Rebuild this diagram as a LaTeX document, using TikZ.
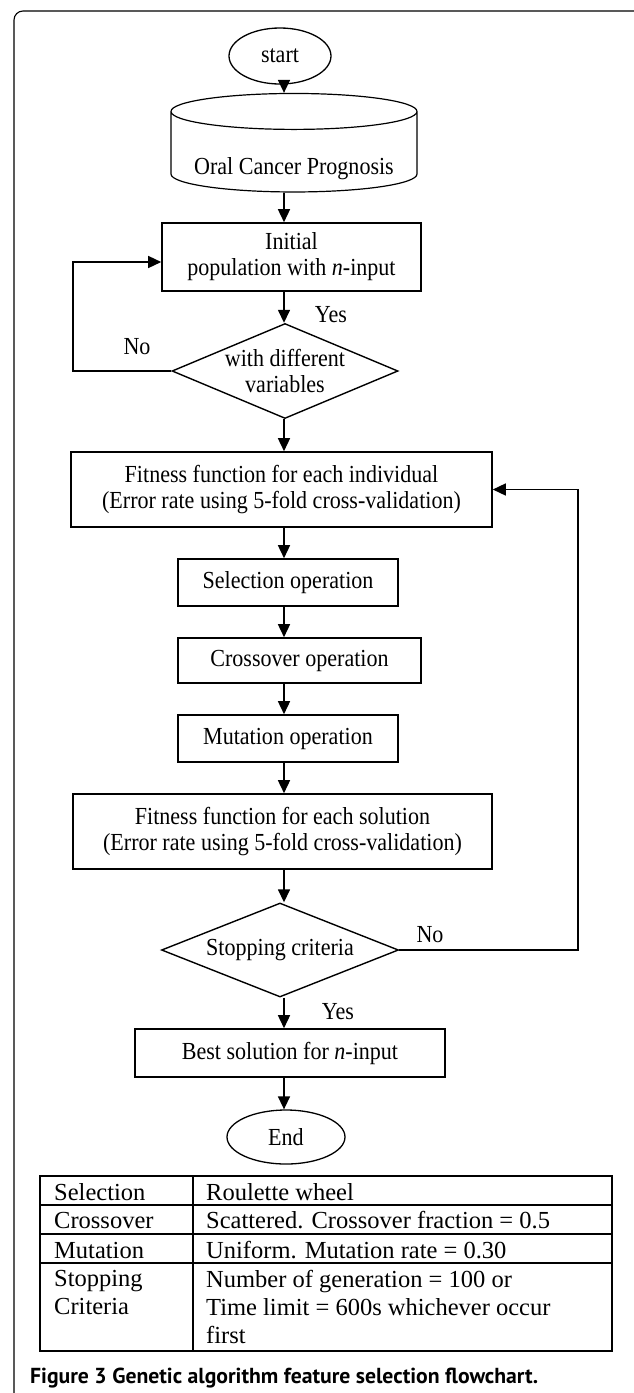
\documentclass[tikz,border=0pt]{standalone}
\usepackage{fontspec}
\setmainfont{Liberation Serif}[FakeStretch=0.9]
\newfontfamily\tabfont{Liberation Serif}
\newfontfamily\capfont{PT Sans}
\usetikzlibrary{shapes.geometric,arrows.meta}

\begin{document}
\begin{tikzpicture}[x=1pt, y=-1pt,
    every node/.style={font=\fontsize{24.5}{26}\selectfont},
    box/.style={draw, line width=1.6pt, inner sep=0pt, align=center},
    term/.style={draw, ellipse, line width=1.3pt, inner sep=0pt},
    test/.style={draw, diamond, aspect=2.4, line width=1.4pt, inner sep=-6pt, align=center},
    arr/.style={line width=1.5pt, -{Triangle[length=13pt, width=12pt]}},
    cell/.style={font=\tabfont\fontsize{24.5}{28}\selectfont, inner sep=0pt, align=left}]
    \useasboundingbox (0,0) rectangle (633,1393);
    \draw[line width=1.1pt, rounded corners=9pt] (14,1393) |- (640,11);

    \coordinate (mid) at (284,0);
    \node[term, minimum width=102pt, minimum height=56pt] (start) at (280,56) {start};
    \node[draw, cylinder, shape border rotate=90, aspect=0.18, line width=1.2pt,
        minimum width=246pt, minimum height=70pt, inner sep=0pt,
        text height=44pt, text depth=0pt] (db) at (294,152) {Oral Cancer Prognosis};
    \node[box, minimum width=259pt, minimum height=68pt] (init) at (291.5,257)
        {Initial\\population with \textit{n}-input};
    \node[test, minimum width=226pt, minimum height=95pt] (vary) at (285,371)
        {with different\\variables};
    \node[box, minimum width=421pt, minimum height=75pt] (fit1) at (281.5,489.5)
        {Fitness function for each individual\\(Error rate using 5-fold cross-validation)};
    \node[box, minimum width=220pt, minimum height=47pt] (sel) at (288,582.5) {Selection operation};
    \node[box, minimum width=243pt, minimum height=45pt] (cross) at (299.5,660.5) {Crossover operation};
    \node[box, minimum width=220pt, minimum height=47pt] (mut) at (288,738.5) {Mutation operation};
    \node[box, minimum width=419pt, minimum height=75pt] (fit2) at (282.5,831.5)
        {Fitness function for each solution\\(Error rate using 5-fold cross-validation)};
    \node[test, minimum width=237pt, minimum height=94pt] (stop) at (280,950) {Stopping criteria};
    \node[box, minimum width=310pt, minimum height=48pt] (best) at (290,1053)
        {Best solution for \textit{n}-input};
    \node[term, minimum width=118pt, minimum height=54pt] (end) at (286,1137) {End};

    \node (yes1) at (331,315) {Yes};
    \node (no1) at (137,347) {No};
    \node (no2) at (430,935) {No};
    \node (yes2) at (338,1012) {Yes};

    \draw[arr] (start.south -| mid) -- (db.north -| mid);
    \draw[arr] (db.south -| mid) -- (init.north -| mid);
    \draw[arr] (init.south -| mid) -- (vary.north -| mid);
    \draw[arr] (vary.south -| mid) -- (fit1.north -| mid);
    \draw[arr] (fit1.south -| mid) -- (sel.north -| mid);
    \draw[arr] (sel.south -| mid) -- (cross.north -| mid);
    \draw[arr] (cross.south -| mid) -- (mut.north -| mid);
    \draw[arr] (mut.south -| mid) -- (fit2.north -| mid);
    \draw[arr] (fit2.south -| mid) -- (stop.north -| mid);
    \draw[arr] (stop.south -| mid) -- (best.north -| mid);
    \draw[arr] (best.south -| mid) -- (end.north -| mid);

    \coordinate (loopA) at (73,262);
    \draw[arr] (vary.west) -| (loopA) -- (loopA -| init.west);
    \coordinate (loopB) at (578,0);
    \draw[arr] (stop.east) -| (loopB |- fit1.east) -- (fit1.east);

    % parameter table
    \draw[line width=1.5pt] (40,1176) rectangle (612,1351);
    \draw[line width=1.5pt] (193,1176) -- (193,1351)
        (40,1205) -- (612,1205) (40,1234) -- (612,1234) (40,1263) -- (612,1263);
    \node[cell, anchor=base west] (k1) at (54,1200) {Selection};
    \node[cell, anchor=base west] (v1) at (206,1200) {Roulette wheel};
    \node[cell, anchor=base west] (k2) at (54,1228) {Crossover};
    \node[cell, anchor=base west] (v2) at (206,1228) {Scattered. Crossover fraction = 0.5};
    \node[cell, anchor=base west] (k3) at (54,1258) {Mutation};
    \node[cell, anchor=base west] (v3) at (206,1258) {Uniform. Mutation rate = 0.30};
    \node[cell, anchor=north west] (k4) at (54,1270.5) {Stopping\\Criteria};
    \node[cell, anchor=north west] (v4) at (206,1270.5)
        {Number of generation = 100 or\\Time limit = 600s whichever occur\\first};

    \node[anchor=base west, inner sep=0pt, font=\capfont\bfseries\fontsize{21.7}{24}\selectfont]
        (cap) at (30,1383) {Figure 3 Genetic algorithm feature selection flowchart.};
\end{tikzpicture}
\end{document}
